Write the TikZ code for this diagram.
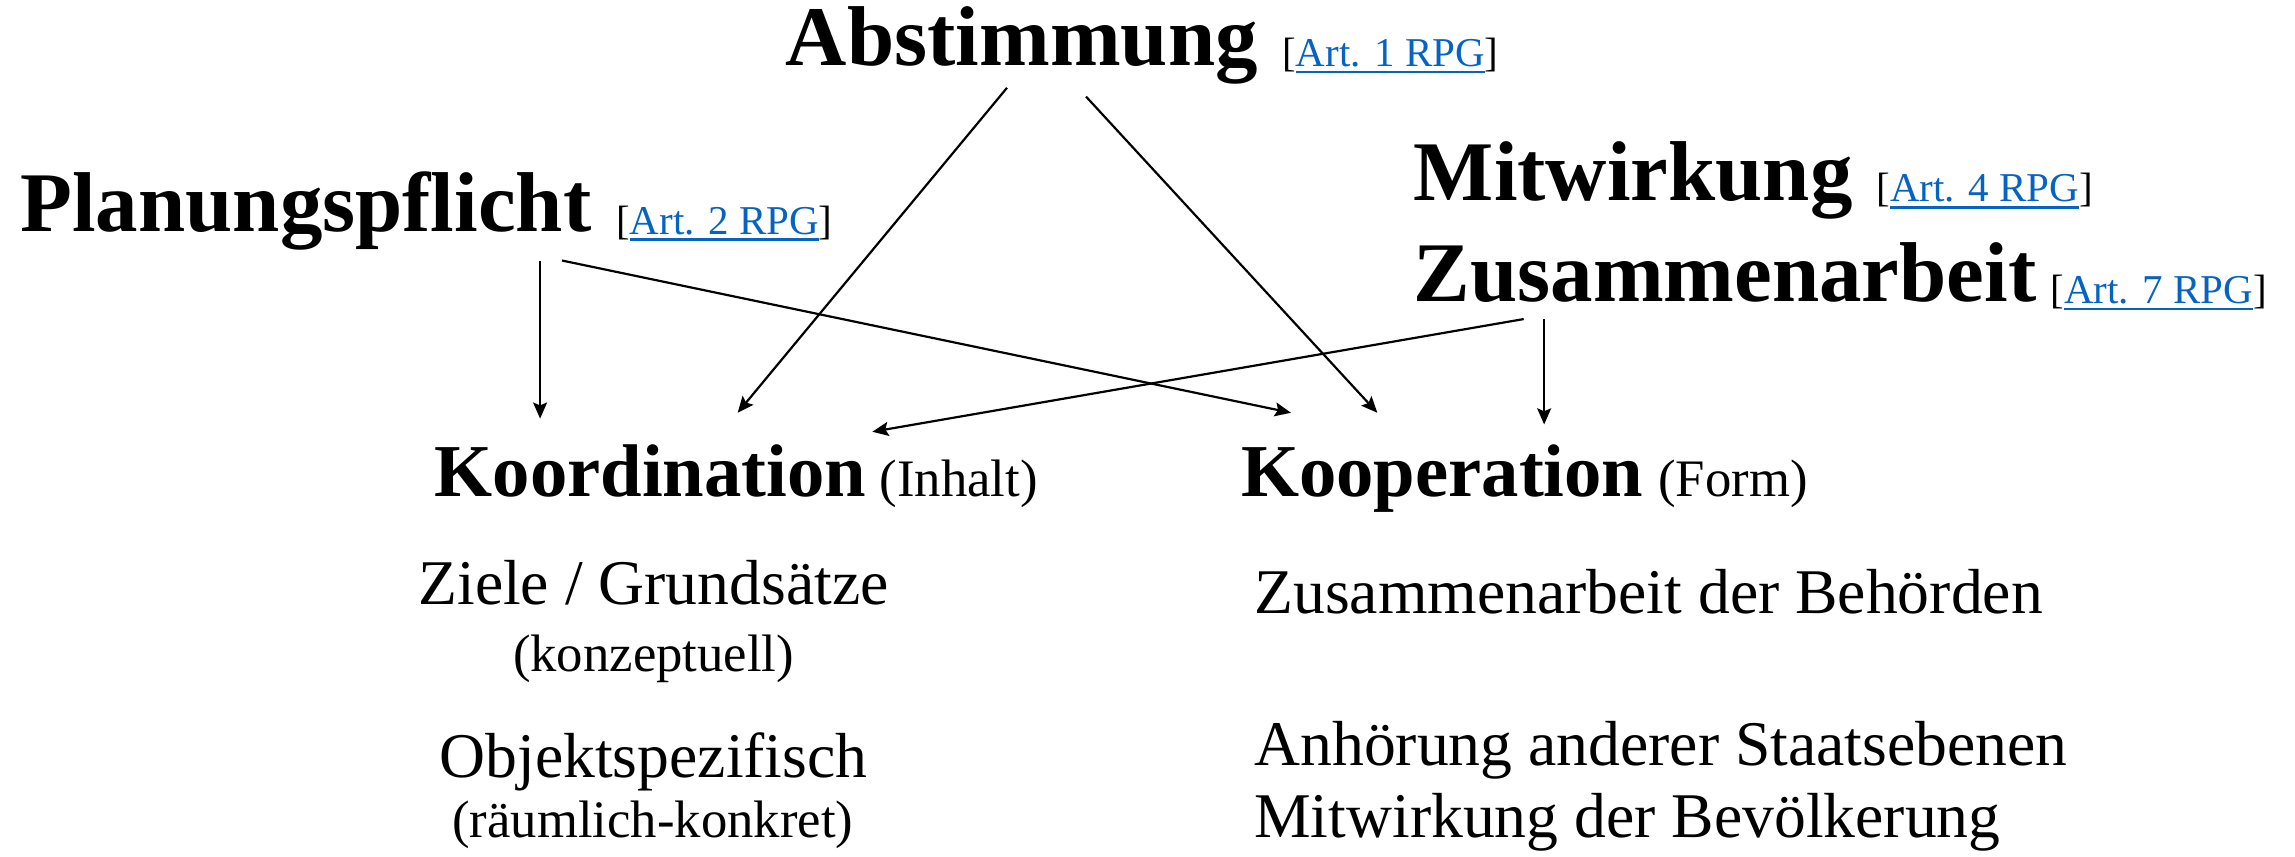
\documentclass[tikz,border=0pt]{standalone}
\usepackage{fontspec}
\setmainfont{Liberation Serif}
\usetikzlibrary{arrows.meta}
\definecolor{linkblue}{HTML}{0563C1}
\newsavebox\lnkbox
\newcommand\lnk[1]{[{\color{linkblue}\sbox\lnkbox{#1}\rlap{\rule[-4.5pt]{\wd\lnkbox}{1.6pt}}\usebox\lnkbox}]}
\tikzset{
  hd/.style={inner sep=0pt, outer sep=0pt, anchor=base west, font=\fontsize{58}{60}\selectfont\bfseries},
  artref/.style={inner sep=0pt, outer sep=0pt, anchor=base west, font=\fontsize{28}{30}\selectfont},
  subhd/.style={inner sep=0pt, outer sep=0pt, anchor=base west, font=\fontsize{51}{53}\selectfont\bfseries},
  paren/.style={inner sep=0pt, outer sep=0pt, anchor=base west, font=\fontsize{36}{38}\selectfont},
  body/.style={inner sep=0pt, outer sep=0pt, font=\fontsize{43.5}{45}\selectfont},
  note/.style={inner sep=0pt, outer sep=0pt, anchor=base, font=\fontsize{36}{38}\selectfont},
  arr/.style={line width=1.5pt, -{Stealth[length=11pt,width=9.5pt,inset=2pt]}}
}
\begin{document}
\begin{tikzpicture}[x=1pt,y=-1pt]
\useasboundingbox (0,0) rectangle (1568,585);
% headings
\node[hd] (abst) at (537,44.5) {Abstimmung};
\node[artref] (abstref) at (876,45.5) {\lnk{Art. 1 RPG}};
\node[hd] (plan) at (14,158.5) {Planungspflicht};
\node[artref] (planref) at (421,160) {\lnk{Art. 2 RPG}};
\node[hd] (mitw) at (966,136.7) {Mitwirkung};
\node[artref] (mitwref) at (1282,138) {\lnk{Art. 4 RPG}};
\node[hd] (zus) at (966,206) {Zusammenarbeit};
\node[artref] (zusref) at (1401,207.5) {\lnk{Art. 7 RPG}};
% sub headings
\node[subhd] (koord) at (297,339) {Koordination};
\node[paren] (inhalt) at (601,339) {(Inhalt)};
\node[subhd] (koop) at (848,339) {Kooperation};
\node[paren] (form) at (1133,339) {(Form)};
% left column
\node[body, anchor=base] (ziele) at (446.5,413) {Ziele / Grundsätze};
\node[note] (konz) at (446.5,459) {(konzeptuell)};
\node[body, anchor=base] (objekt) at (446.5,531) {Objektspezifisch};
\node[note] (raeum) at (446,572) {(räumlich-konkret)};
% right column
\node[body, anchor=base west] (zbeh) at (857,419) {Zusammenarbeit der Behörden};
\node[body, anchor=base west] (anh) at (857,523) {Anhörung anderer Staatsebenen};
\node[body, anchor=base west] (mbev) at (857,572) {Mitwirkung der Bevölkerung};
% connector ends
\coordinate (a1s) at (688,60);
\coordinate (a1e) at (504,282);
\coordinate (a2s) at (742,66);
\coordinate (a2e) at (941,282);
\coordinate (p1s) at (369,178);
\coordinate (p1e) at (369,286);
\coordinate (p2s) at (384,178);
\coordinate (p2e) at (882,282);
\coordinate (z1s) at (1041,218);
\coordinate (z1e) at (596,295);
\coordinate (z2s) at (1055,218);
\coordinate (z2e) at (1055,290);
\draw[arr] (a1s) -- (a1e);
\draw[arr] (a2s) -- (a2e);
\draw[arr] (p1s) -- (p1e);
\draw[arr] (p2s) -- (p2e);
\draw[arr] (z1s) -- (z1e);
\draw[arr] (z2s) -- (z2e);
\end{tikzpicture}
\end{document}
